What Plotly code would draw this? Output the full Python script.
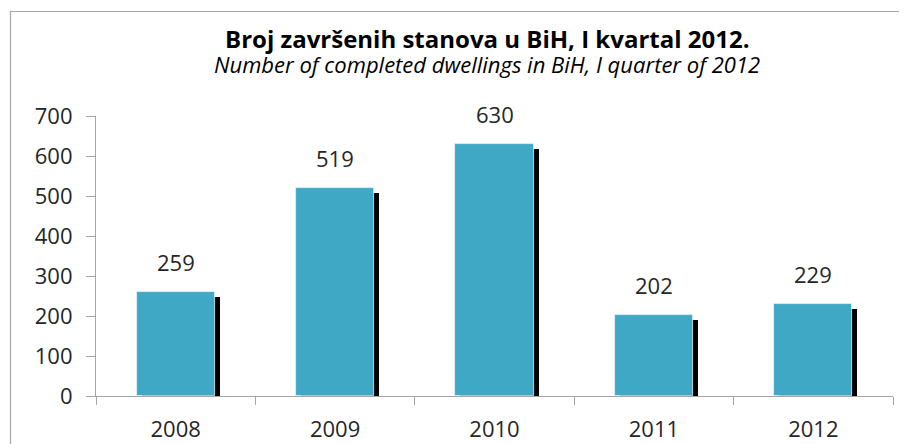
import plotly.graph_objects as go

years = ["2008", "2009", "2010", "2011", "2012"]
dwellings = [259, 519, 630, 202, 229]
y_ticks = [0, 100, 200, 300, 400, 500, 600, 700]

title_bs = "Broj završenih stanova u BiH, I kvartal 2012."
title_en = "Number of completed dwellings in BiH, I quarter of 2012"

BAR = "#3FA8C4"
AXIS = "#A6A6A6"
TXT = "#262626"
FONT = "Open Sans"

W, H = 907, 444
OFF = 8  # page body margin offset
L, T = 96 - OFF, 116 - OFF
pw, ph = 797, 280
R, B = W - L - pw, H - T - ph

bw = 0.49
sx = 5 / (pw / len(years))          # shadow x shift (category units)
sy = 5 * 700 / ph                    # shadow y shift (data units)

fig = go.Figure()
fig.add_trace(go.Bar(
    x=years, y=dwellings, base=[-sy] * len(years),
    width=bw, offset=-bw / 2 + sx,
    marker=dict(color="#000000", line=dict(width=0)),
    hoverinfo="skip", showlegend=False,
))
fig.add_trace(go.Bar(
    x=years, y=dwellings,
    width=bw, offset=-bw / 2,
    marker=dict(color=BAR, line=dict(color="#E6F3F7", width=0.8)),
    showlegend=False,
))

for i, v in enumerate(dwellings):
    fig.add_annotation(x=i, y=v, text=str(v), showarrow=False,
                       yshift=30, font=dict(family=FONT, size=22, color=TXT))

cx = (487 - OFF - L) / pw
fig.add_annotation(xref="paper", yref="paper", x=cx, y=(396 - 38) / ph,
                   text="<b>" + title_bs + "</b>", showarrow=False,
                   xanchor="center", yanchor="middle",
                   font=dict(family=FONT, size=24, color="#000000"))
fig.add_annotation(xref="paper", yref="paper", x=cx, y=(396 - 64) / ph,
                   text="<i>" + title_en + "</i>", showarrow=False,
                   xanchor="center", yanchor="middle",
                   font=dict(family=FONT, size=22, color="#000000"))

# chart frame (left and top edges visible)
fig.add_shape(type="rect", xref="paper", yref="paper",
              x0=(10.5 - 96) / pw, x1=1.3, y0=-0.5, y1=(396 - 11.5) / ph,
              line=dict(color=AXIS, width=1.2), layer="below")

fig.update_layout(
    width=W, height=H,
    margin=dict(l=L, r=R, t=T, b=B, pad=0, autoexpand=False),
    paper_bgcolor="white", plot_bgcolor="white",
    barmode="overlay", bargap=0,
    font=dict(family=FONT, size=22, color=TXT),
    xaxis=dict(type="category", categoryorder="array", categoryarray=years,
               range=[-0.5, len(years) - 0.5], autorange=False, automargin=False,
               showline=True, linecolor=AXIS, linewidth=1.2,
               ticks="outside", tickson="boundaries", ticklen=8, tickcolor=AXIS,
               tickwidth=1.2, showgrid=False, zeroline=False, tickangle=0,
               ticklabelstandoff=13,
               tickfont=dict(family=FONT, size=22, color=TXT)),
    yaxis=dict(range=[0, 700], tickvals=y_ticks, showline=True, linecolor=AXIS,
               linewidth=1.2, ticks="outside", ticklen=9, tickcolor=AXIS,
               tickwidth=1.2, showgrid=False, zeroline=False, automargin=False,
               ticklabelstandoff=9,
               tickfont=dict(family=FONT, size=22, color=TXT)),
)

fig.write_html("out.html")
